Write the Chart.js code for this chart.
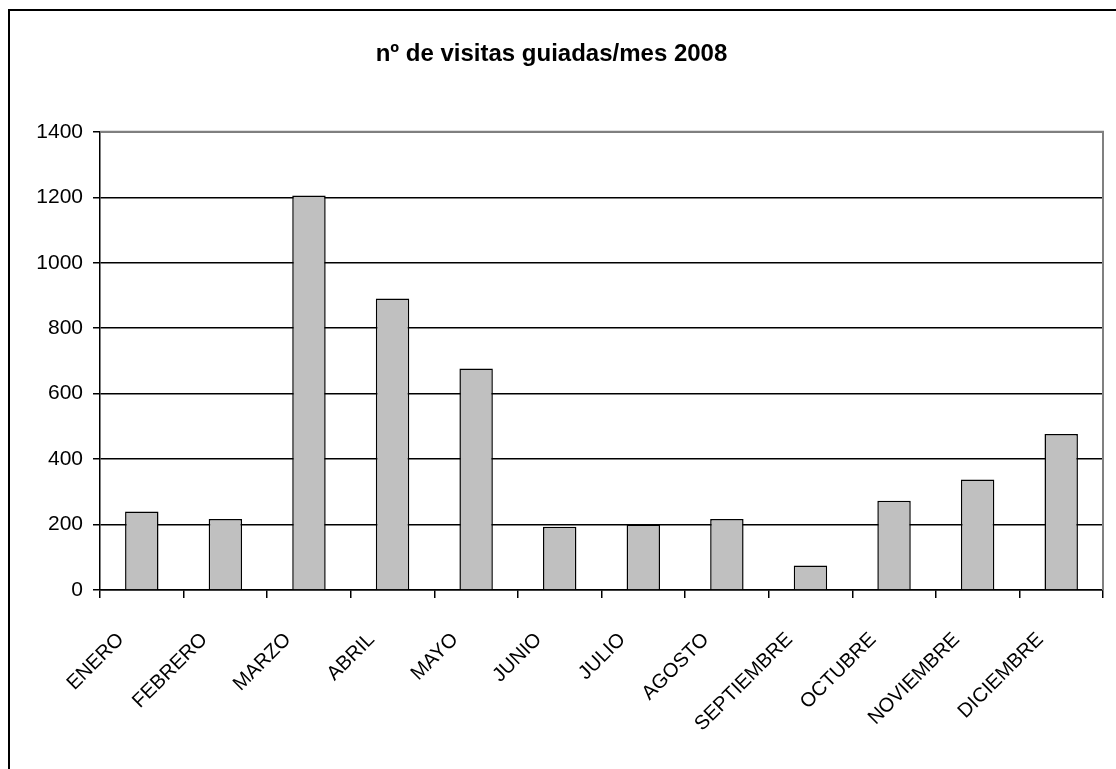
<!DOCTYPE html>
<html>
<head>
<meta charset="utf-8">
<script src="https://cdn.jsdelivr.net/npm/chart.js@4/dist/chart.umd.min.js"></script>
<style>
  html, body { margin: 0; padding: 0; background: #fff; overflow: hidden; }
  #marco {
    position: absolute; left: 8px; top: 9px;
    width: 1300px; height: 1000px;
    border: 2.5px solid #000;
  }
  #wrap { position: absolute; left: 0; top: 0; width: 1116px; height: 769px; }
</style>
</head>
<body>
<div id="marco"></div>
<div id="wrap"><canvas id="visitasChart" width="1116" height="769"></canvas></div>
<script>
// nº de visitas guiadas por mes, 2008
const meses = ['ENERO', 'FEBRERO', 'MARZO', 'ABRIL', 'MAYO', 'JUNIO', 'JULIO',
               'AGOSTO', 'SEPTIEMBRE', 'OCTUBRE', 'NOVIEMBRE', 'DICIEMBRE'];
const visitas = [240, 217, 1205, 891, 677, 193, 200, 217, 75, 273, 338, 477];
const ticksY = [0, 200, 400, 600, 800, 1000, 1200, 1400];

const fuente = 'Liberation Sans, Arial, sans-serif';

// borde gris del area de trazado (arriba y derecha)
const bordeArea = {
    id: 'bordeArea',
    afterDraw(chart) {
        const a = chart.chartArea;
        const c = chart.ctx;
        c.save();
        c.strokeStyle = '#808080';
        c.lineWidth = 2;
        c.beginPath();
        c.moveTo(a.left, a.top);
        c.lineTo(a.right, a.top);
        c.lineTo(a.right, a.bottom);
        c.stroke();
        c.restore();
    }
};

var ctx = document.getElementById('visitasChart').getContext('2d');
var visitasChart = new Chart(ctx, {
    type: 'bar',
    data: {
        labels: meses,
        datasets: [{
            label: 'visitas',
            data: visitas,
            backgroundColor: '#C0C0C0',
            borderColor: '#000000',
            borderWidth: 1.5,
            barPercentage: 0.4,
            categoryPercentage: 1.0
        }]
    },
    options: {
        responsive: false,
        animation: false,
        layout: { padding: { left: 0, right: 13, top: 0, bottom: 0 } },
        plugins: {
            legend: { display: false },
            tooltip: { enabled: false },
            title: {
                display: true,
                text: 'nº de visitas guiadas/mes 2008',
                color: '#000',
                font: { family: fuente, size: 24, weight: 'bold' },
                padding: { top: 40, bottom: 63 }
            }
        },
        scales: {
            x: {
                grid: {
                    display: true,
                    offset: true,
                    drawOnChartArea: false,
                    drawTicks: true,
                    tickLength: 8,
                    color: '#000',
                    lineWidth: 1.5
                },
                border: { color: '#000', width: 1.5 },
                ticks: {
                    color: '#000',
                    font: { family: fuente, size: 20 },
                    minRotation: 45,
                    maxRotation: 45,
                    autoSkip: false,
                    padding: 30,
                    labelOffset: -21
                },
                afterFit: function (s) { s.height = 179; }
            },
            y: {
                min: 0,
                max: 1400,
                afterBuildTicks: function (s) { s.ticks = ticksY.map(v => ({ value: v })); },
                grid: {
                    color: '#000',
                    lineWidth: 1.5,
                    drawTicks: true,
                    tickLength: 7
                },
                border: { color: '#000', width: 1.5 },
                ticks: {
                    color: '#000',
                    font: { family: fuente, size: 21 },
                    padding: 10,
                    callback: function (v) { return String(v); }
                },
                afterFit: function (s) { s.width = 100; }
            }
        }
    },
    plugins: [bordeArea]
});
</script>
</body>
</html>
